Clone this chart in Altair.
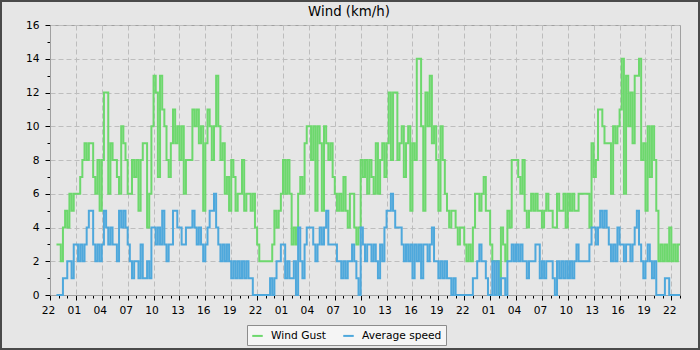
import altair as alt
import pandas as pd

TITLE = "Wind (km/h)"
SERIES = ["Wind Gust", "Average speed"]
COLORS = ["#6dd86d", "#4ea8dc"]
FIRST_HOUR_LABEL = 22          # clock hour at the left edge of the axis
T0 = 0.75                      # first sample (hours after the left edge)
STEP = 0.25                    # sampling step in hours
X_END = 73                     # hours shown on the axis

# Wind gust (km/h), 15-minute samples
gust_day1 = [3,
             3, 2, 4, 5,  4, 6, 5, 6,  6, 6, 7, 8,  9, 8, 9, 9,  7, 6, 8, 5,  8, 12, 12, 6,
             9, 8, 8, 7,  6, 10, 9, 8,  6, 6, 8, 7,  8, 5, 8, 9,  9, 4, 6, 10,  13, 12, 7, 13,
             11, 10, 8, 7,  9, 11, 9, 10,  8, 10, 6, 8,  8, 8, 11, 10,  11, 9, 10, 5,  9, 11, 10, 8,
             10, 13, 10, 8,  9, 6, 7, 5,  8, 7, 5, 6,  6, 8, 5, 6,  6, 5, 6, 4]
gust_day2 = [3, 2, 2, 2,  2, 2, 2, 3,  5, 4, 5, 6,  8, 6, 8, 6,  3, 4, 3, 6,  7, 6, 9, 10,
             10, 8, 10, 5,  10, 9, 5, 10,  9, 8, 9, 7,  6, 5, 6, 5,  7, 5, 4, 6,  6, 4, 3, 4,
             8, 7, 8, 6,  8, 7, 6, 9,  6, 8, 9, 7,  9, 12, 8, 12,  12, 8, 9, 10,  7, 9, 10, 5,
             9, 8, 14, 14,  10, 5, 12, 10,  13, 9, 10, 8,  5, 10, 8, 6,  5, 4, 5, 5,  4, 3, 4, 4]
gust_day3 = [3, 2, 3, 2,  4, 6, 6, 5,  6, 7, 5, 5,  3, 2, 2, 2,  0, 4, 3, 2,  5, 4, 8, 8,
             8, 7, 6, 8,  5, 4, 5, 6,  5, 6, 5, 5,  4, 5, 6, 5,  5, 4, 4, 6,  5, 5, 6, 4,
             6, 5, 6, 5,  5, 6, 6, 6,  6, 6, 4, 9,  7, 8, 11, 11,  10, 9, 9, 9,  6, 10, 9, 10,
             11, 14, 6, 13,  10, 12, 9, 13,  13, 14, 8, 9,  5, 10, 7, 10,  8, 5, 2, 3,  2, 3, 2, 4,
             2, 3, 2, 3,  3]

# Average wind speed (km/h), 15-minute samples
avg_day1 = [0,
            0, 0, 1, 1,  2, 2, 1, 3,  3, 2, 3, 2,  3, 4, 5, 5,  3, 2, 3, 2,  3, 5, 4, 3,
            4, 3, 3, 2,  5, 4, 5, 4,  3, 2, 1, 2,  2, 1, 3, 1,  1, 2, 1, 4,  4, 3, 4, 3,
            5, 3, 2, 3,  3, 5, 5, 4,  4, 3, 3, 4,  4, 4, 5, 4,  3, 4, 3, 2,  3, 4, 5, 5,
            6, 4, 3, 2,  3, 2, 3, 2,  1, 2, 1, 2,  1, 2, 1, 2,  1, 1, 0, 0]
avg_day2 = [0, 0, 0, 0,  0, 0, 1, 0,  1, 2, 2, 3,  3, 1, 2, 1,  1, 2, 0, 4,  2, 1, 3, 4,
            4, 4, 3, 2,  3, 4, 3, 4,  5, 3, 3, 3,  3, 2, 2, 1,  2, 1, 2, 2,  3, 2, 1, 0,
            4, 3, 2, 3,  3, 2, 3, 2,  1, 3, 2, 4,  5, 5, 6, 5,  4, 4, 4, 3,  2, 3, 2, 3,
            1, 3, 2, 3,  1, 3, 3, 2,  3, 4, 2, 2,  1, 2, 1, 2,  1, 1, 0, 1,  0, 0, 0, 0]
avg_day3 = [0, 0, 0, 0,  1, 1, 2, 3,  2, 2, 1, 0,  0, 2, 0, 2,  0, 1, 1, 0,  2, 2, 3, 2,
            3, 2, 3, 2,  2, 1, 2, 2,  2, 3, 3, 1,  2, 1, 2, 2,  2, 1, 0, 2,  1, 2, 1, 2,
            1, 2, 1, 2,  3, 2, 2, 2,  2, 2, 3, 4,  4, 3, 4, 5,  4, 5, 4, 3,  2, 3, 2, 4,
            3, 3, 2, 3,  3, 2, 3, 4,  5, 3, 2, 1,  2, 3, 2, 1,  2, 0, 0, 0,  0, 1, 1, 0,
            0, 0, 0, 0,  0]


def frame(values, name):
    return pd.DataFrame({
        "t": [T0 + STEP * i for i in range(len(values))],
        "v": values,
        "series": name,
    })


gust_df = frame(gust_day1 + gust_day2 + gust_day3, SERIES[0])
avg_df = frame(avg_day1 + avg_day2 + avg_day3, SERIES[1])

FONT = "DejaVu Sans"
SMALL = 10.67

hour_label = (
    f"datum.value % 3 === 0 ? "
    f"((((datum.value + {FIRST_HOUR_LABEL}) % 24) < 10 ? '0' : '') + ((datum.value + {FIRST_HOUR_LABEL}) % 24)) : ''"
)

x_enc = alt.X(
    "t:Q",
    scale=alt.Scale(domain=[0, X_END], nice=False, zero=False),
    axis=alt.Axis(
        title=None,
        values=list(range(0, X_END + 1)),
        labelExpr=hour_label,
        labelOverlap=False,
        labelFlush=False,
        labelPadding=5,
        labelOffset=-2,
        tickSize={"condition": {"test": "datum.value % 3 === 0", "value": 5}, "value": 3},
        gridOpacity={"condition": {"test": "datum.value % 3 === 0", "value": 1}, "value": 0},
    ),
)
y_enc = alt.Y(
    "v:Q",
    scale=alt.Scale(domain=[0, 16], nice=False),
    axis=alt.Axis(
        title=None,
        values=list(range(0, 17)),
        labelExpr="datum.value % 2 === 0 ? datum.label : ''",
        labelOverlap=False,
        labelFlush=False,
        labelPadding=6,
        tickSize={"condition": {"test": "datum.value % 2 === 0", "value": 5}, "value": 3},
        gridOpacity={"condition": {"test": "datum.value % 2 === 0", "value": 1}, "value": 0},
    ),
)
color_enc = alt.Color(
    "series:N",
    scale=alt.Scale(domain=SERIES, range=COLORS),
    legend=alt.Legend(
        title=None,
        orient="none",
        legendX=197,
        legendY=300,
        direction="horizontal",
        fillColor="#f5f5f5",
        strokeColor="#8c8c8c",
        padding=4,
        symbolType="stroke",
        symbolSize=110,
        symbolStrokeWidth=2,
        labelFont=FONT,
        labelFontSize=SMALL,
        labelColor="#000000",
        labelOffset=7,
        columnPadding=13,
    ),
)

border = alt.Chart(pd.DataFrame({"k": [0]})).mark_rect(
    fillOpacity=0, stroke="#4a4a4a", strokeWidth=2
).encode(
    x=alt.value(-49), x2=alt.value(649), y=alt.value(-24), y2=alt.value(324)
)

gust_line = alt.Chart(gust_df).mark_line(interpolate="step-after", strokeWidth=2).encode(
    x=x_enc, y=y_enc, color=color_enc
)
avg_line = alt.Chart(avg_df).mark_line(interpolate="step-after", strokeWidth=2).encode(
    x=x_enc, y=y_enc, color=color_enc
)

chart = alt.layer(gust_line, avg_line, border).properties(
    width=630,
    height=270,
    autosize=alt.AutoSizeParams(type="none"),
    padding={"left": 50, "top": 25, "right": 20, "bottom": 55},
    background="#e6e6e6",
    title=alt.TitleParams(
        TITLE,
        font=FONT,
        fontSize=13.33,
        fontWeight="normal",
        color="#000000",
        anchor="middle",
        frame="group",
        dx=-16,
        dy=29,
        offset=0,
        baseline="alphabetic",
    ),
).configure_view(
    stroke="#a0a0a0", strokeWidth=1, fill="#e6e6e6"
).configure_axis(
    labelFont=FONT,
    labelFontSize=SMALL,
    labelColor="#000000",
    tickColor="#000000",
    tickWidth=1,
    domainColor="#a0a0a0",
    gridColor="#bdbdbd",
    gridDash=[5, 3],
    gridWidth=1,
)

chart.save("out.html", embed_options={"renderer": "svg", "actions": False})
